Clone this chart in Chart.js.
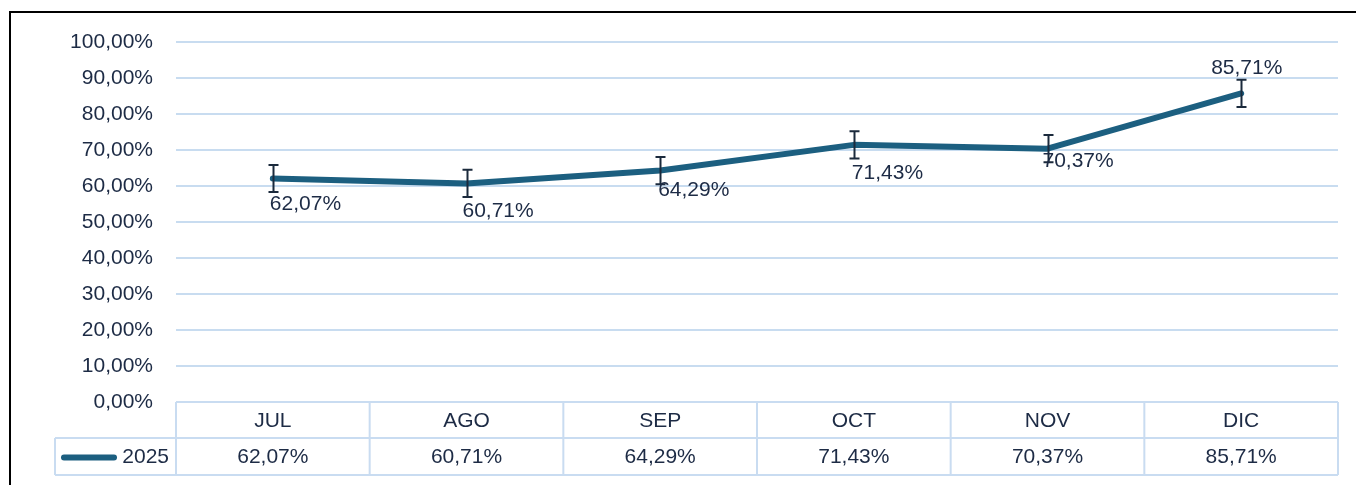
<!DOCTYPE html>
<html>
<head>
<meta charset="utf-8">
<script src="https://cdn.jsdelivr.net/npm/chart.js@4/dist/chart.umd.min.js"></script>
<style>
  html, body { margin: 0; padding: 0; background: #ffffff; }
  #wrap { width: 1356px; height: 485px; position: relative; }
</style>
</head>
<body>
<div id="wrap"><canvas id="c" width="1356" height="485"></canvas></div>
<script>
// Monthly share, second half of the year
const months = ['JUL', 'AGO', 'SEP', 'OCT', 'NOV', 'DIC'];
const seriesName = '2025';
const values2025 = [62.07, 60.71, 64.29, 71.43, 70.37, 85.71];
// Error bar half-length (standard error), in percentage points
const errors2025 = [3.77, 3.77, 3.77, 3.77, 3.77, 3.77];
const yTicks = [0, 10, 20, 30, 40, 50, 60, 70, 80, 90, 100];

// Value label placement relative to each point (left edge / vertical centre, px)
const labelShift = [[-3, 26], [-4, 28], [-2, 20], [-2, 28], [-5, 13], [-30, -25]];

const FONT = '"Liberation Sans", Arial, sans-serif';
const TEXT = '#1d2b45';
const LINE = '#1c5f80';
const GRID = '#c8dcf0';

const fmt = v => v.toFixed(2).replace('.', ',') + '%';

const extras = {
  id: 'extras',
  beforeDraw(chart) {
    const ctx = chart.ctx;
    ctx.save();
    ctx.fillStyle = '#ffffff';
    ctx.fillRect(0, 0, chart.width, chart.height);
    // frame
    ctx.strokeStyle = '#000000';
    ctx.lineWidth = 2;
    ctx.beginPath();
    ctx.moveTo(10, chart.height + 2);
    ctx.lineTo(10, 12);
    ctx.lineTo(chart.width + 2, 12);
    ctx.stroke();
    ctx.restore();
  },
  afterDatasetsDraw(chart) {
    const ctx = chart.ctx;
    const xs = chart.scales.x, ys = chart.scales.y;
    const area = chart.chartArea;
    ctx.save();
    // error bars
    ctx.strokeStyle = '#1b2a3c';
    ctx.lineWidth = 2;
    values2025.forEach((v, i) => {
      const x = Math.round(xs.getPixelForValue(i)) + 0.5;
      const yt = ys.getPixelForValue(v + errors2025[i]);
      const yb = ys.getPixelForValue(v - errors2025[i]);
      ctx.beginPath();
      ctx.moveTo(x, yt); ctx.lineTo(x, yb);
      ctx.moveTo(x - 5, yt); ctx.lineTo(x + 5, yt);
      ctx.moveTo(x - 5, yb); ctx.lineTo(x + 5, yb);
      ctx.stroke();
    });
    // value labels
    ctx.fillStyle = TEXT;
    ctx.font = '21px ' + FONT;
    ctx.textAlign = 'left';
    ctx.textBaseline = 'middle';
    values2025.forEach((v, i) => {
      const x = xs.getPixelForValue(i);
      const y = ys.getPixelForValue(v);
      ctx.fillText(fmt(v), x + labelShift[i][0], y + labelShift[i][1]);
    });

    // data table under the plot
    const n = months.length;
    const step = (area.right - area.left) / n;
    const top = area.bottom, mid = top + 36, bot = mid + 37;
    const legendLeft = 55;
    ctx.strokeStyle = '#c9dcf1';
    ctx.lineWidth = 2;
    ctx.beginPath();
    ctx.moveTo(area.left, top); ctx.lineTo(area.right, top);
    ctx.moveTo(legendLeft, mid); ctx.lineTo(area.right, mid);
    ctx.moveTo(legendLeft, bot); ctx.lineTo(area.right, bot);
    ctx.moveTo(legendLeft, mid); ctx.lineTo(legendLeft, bot);
    for (let i = 0; i <= n; i++) {
      const x = area.left + i * step;
      ctx.moveTo(x, top); ctx.lineTo(x, bot);
    }
    ctx.stroke();

    ctx.fillStyle = TEXT;
    ctx.textAlign = 'center';
    months.forEach((m, i) => {
      const cx = xs.getPixelForValue(i);
      ctx.fillText(m, cx, (top + mid) / 2 + 1);
      ctx.fillText(fmt(values2025[i]), cx, (mid + bot) / 2 + 1);
    });
    // legend key
    ctx.strokeStyle = LINE;
    ctx.lineWidth = 6;
    ctx.lineCap = 'round';
    ctx.beginPath();
    ctx.moveTo(64, (mid + bot) / 2 + 1);
    ctx.lineTo(114, (mid + bot) / 2 + 1);
    ctx.stroke();
    ctx.textAlign = 'right';
    ctx.fillText(seriesName, 169, (mid + bot) / 2 + 1);
    ctx.restore();
  }
};

new Chart(document.getElementById('c'), {
  type: 'line',
  data: {
    labels: months,
    datasets: [{
      label: seriesName,
      data: values2025,
      borderColor: LINE,
      backgroundColor: LINE,
      borderWidth: 6,
      borderCapStyle: 'round',
      borderJoinStyle: 'round',
      pointRadius: 0,
      tension: 0
    }]
  },
  options: {
    responsive: false,
    animation: false,
    events: [],
    layout: { padding: { left: 0, top: 42, right: 18, bottom: 83 } },
    plugins: { legend: { display: false }, tooltip: { enabled: false } },
    scales: {
      x: {
        display: false,
        offset: true
      },
      y: {
        min: 0,
        max: 100,
        afterFit(s) { s.width = 176; },
        afterBuildTicks(s) { s.ticks = yTicks.map(v => ({ value: v })); },
        border: { display: false },
        grid: { color: GRID, lineWidth: 2, drawTicks: false },
        ticks: {
          padding: 23,
          color: TEXT,
          font: { family: FONT, size: 21 },
          callback: v => fmt(v)
        }
      }
    }
  },
  plugins: [extras]
});
</script>
</body>
</html>
